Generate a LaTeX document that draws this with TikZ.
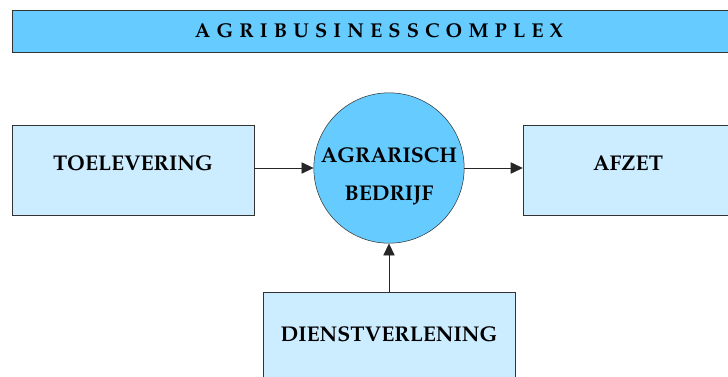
\documentclass[tikz,border=0pt]{standalone}
\usepackage[T1]{fontenc}
\usepackage{mathpazo}
\usepackage{tikz}
\usetikzlibrary{arrows.meta,positioning}
\definecolor{kopblauw}{HTML}{66CCFF}
\definecolor{vakblauw}{HTML}{CCECFF}
\tikzset{
    vak/.style={rectangle, draw=black!80, fill=vakblauw, thin, align=center,
                minimum height=90*0.75pt, text depth=10pt,
                font=\fontsize{16}{19}\selectfont\bfseries},
    kern/.style={circle, draw=black!80, fill=kopblauw, thin, align=center,
                 minimum size=148*0.75pt, inner sep=0pt, text height=48pt, text depth=-8pt,
                 font=\fontsize{16}{28.5}\selectfont\bfseries},
    kop/.style={rectangle, draw=black!80, fill=kopblauw, thin,
                minimum height=42*0.75pt, minimum width=734*0.75pt,
                font=\fontsize{15}{17}\selectfont\bfseries},
    pijl/.style={-{Triangle[length=9pt,width=8.5pt]}, thin, draw=black!85, fill=black},
}
\begin{document}
\begin{tikzpicture}[x=0.75pt,y=-0.75pt]
    \clip (0,0) rectangle (728,376);
    \node[kop] (titel) at (379,31) {\spaceskip=4.6pt A G R I B U S I N E S S C O M P L E X};
    \node[kern] (bedrijf) at (389,168) {AGRARISCH\\BEDRIJF};
    \node[vak, minimum width=242*0.75pt] (toelevering) at (133,170) {TOELEVERING};
    \node[vak, minimum width=210*0.75pt] (afzet) at (628,170) {AFZET};
    \node[vak, minimum width=252*0.75pt, text depth=4pt] (dienst) at (389,337) {DIENSTVERLENING};
    % pijlen naar en van het bedrijf
    \draw[pijl] (toelevering.east |- bedrijf.west) -- (bedrijf.west);
    \draw[pijl] (bedrijf.east) -- (afzet.west |- bedrijf.east);
    \draw[pijl] (dienst.north) -- (bedrijf.south);
\end{tikzpicture}
\end{document}
